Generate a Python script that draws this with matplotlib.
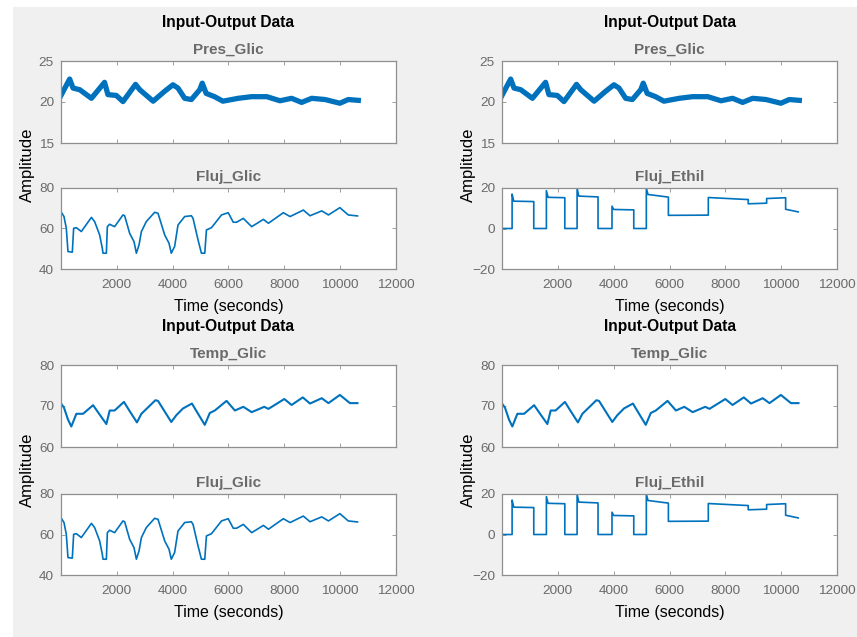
import matplotlib.pyplot as plt
from matplotlib.patches import Rectangle

plt.rcParams['font.family'] = ['Liberation Sans', 'DejaVu Sans']

# Pres_Glic (salida, trazo con ruido)
pres_t = [0, 310, 430, 670, 1090, 1560, 1680, 1980, 2220, 2670, 2820, 3300, 3710,
          4010, 4190, 4430, 4670, 4970, 5060, 5200, 5500, 5800, 6350, 6830, 7370,
          7845, 8260, 8620, 8980, 9460, 9990, 10290, 10650]
pres_v = [20.8, 22.8, 21.7, 21.5, 20.45, 22.4, 20.9, 20.8, 20.05, 22.15, 21.5, 20.1,
          21.3, 22.1, 21.7, 20.45, 20.3, 21.5, 22.3, 21.05, 20.65, 20.1, 20.45, 20.65,
          20.65, 20.15, 20.45, 19.95, 20.45, 20.3, 19.85, 20.3, 20.2]

# Temp_Glic (salida)
temp_t = [0, 107, 250, 370, 550, 790, 1150, 1385, 1625, 1745, 1920, 2255, 2460, 2720,
          2880, 3380, 3475, 3950, 4130, 4370, 4690, 4910, 5150, 5330, 5510, 5930, 6230,
          6530, 6830, 7280, 7430, 8000, 8260, 8660, 8920, 9340, 9580, 9990, 10350, 10620]
temp_v = [70.6, 69.6, 66.7, 65.0, 68.1, 68.1, 70.2, 67.9, 65.6, 68.9, 68.9, 71.0, 68.75,
          66.0, 68.1, 71.4, 71.25, 66.1, 67.75, 69.4, 70.6, 68.1, 65.4, 68.3, 68.9, 71.25,
          68.9, 69.8, 68.5, 69.8, 69.3, 71.7, 70.25, 72.1, 70.6, 71.9, 70.7, 72.7, 70.7, 70.7]

# Fluj_Glic (entrada)
glic_t = [0, 107, 190, 250, 405, 453, 550, 728, 1090, 1205, 1385, 1480, 1505, 1625, 1660,
          1740, 1920, 2220, 2280, 2460, 2615, 2700, 2795, 2880, 3055, 3355, 3475, 3715,
          3870, 3950, 4070, 4190, 4430, 4670, 4730, 4910, 5030, 5150, 5210, 5390, 5750,
          5990, 6170, 6290, 6530, 6830, 7250, 7430, 7965, 8205, 8680, 8920, 9340, 9580,
          9990, 10290, 10620]
glic_v = [68.3, 65.9, 60.1, 48.6, 48.3, 60.1, 60.4, 58.5, 65.5, 63.4, 56.8, 50.2, 47.8,
          47.8, 60.9, 62.1, 60.9, 66.7, 66.3, 57.6, 53.5, 47.8, 51.9, 58.5, 63.4, 68.0,
          67.5, 56.8, 52.7, 47.8, 51.1, 61.7, 65.9, 66.3, 65.0, 54.3, 47.8, 47.8, 59.3,
          60.4, 66.7, 67.8, 63.1, 63.1, 65.0, 60.9, 64.5, 62.6, 67.8, 65.9, 69.1, 66.3,
          68.7, 66.7, 70.3, 66.7, 66.2]

# Fluj_Ethil (entrada, escalones)
ethil_t = [0, 362, 362, 420, 1138, 1138, 1590, 1590, 1650, 2250, 2250, 2690, 2690, 2750,
           3440, 3440, 3940, 3940, 4000, 4720, 4720, 5170, 5170, 5230, 5960, 5960, 7390,
           7390, 8660, 8820, 8820, 9480, 9480, 10160, 10160, 10610]
ethil_v = [0, 0, 17.0, 13.5, 13.3, 0, 0, 18.7, 15.4, 15.2, 0, 0, 20.0, 16.0, 15.6, 0, 0,
           11.0, 9.4, 9.2, 0, 0, 20.0, 16.8, 15.5, 6.5, 6.6, 15.3, 14.4, 14.3, 12.2, 12.5,
           14.8, 15.2, 9.5, 8.2]

xticks = [2000, 4000, 6000, 8000, 10000, 12000]

paneles = [
    # (izquierda, abajo sup, abajo inf, salida, entrada)
    (61, 143, 269, ('Pres_Glic', pres_t, pres_v, (15, 25), [15, 20, 25], 3.8),
     ('Fluj_Glic', glic_t, glic_v, (40, 80), [40, 60, 80])),
    (502, 143, 269, ('Pres_Glic', pres_t, pres_v, (15, 25), [15, 20, 25], 3.8),
     ('Fluj_Ethil', ethil_t, ethil_v, (-20, 20), [-20, 0, 20])),
    (61, 447, 575, ('Temp_Glic', temp_t, temp_v, (60, 80), [60, 70, 80], 1.5),
     ('Fluj_Glic', glic_t, glic_v, (40, 80), [40, 60, 80])),
    (502, 447, 575, ('Temp_Glic', temp_t, temp_v, (60, 80), [60, 70, 80], 1.5),
     ('Fluj_Ethil', ethil_t, ethil_v, (-20, 20), [-20, 0, 20])),
]

W, H = 857, 637
azul = '#0072BD'
gris_eje = '#8f8f8f'
gris_txt = '#6a6a6a'

fig = plt.figure(figsize=(W / 100, H / 100), dpi=100)
fig.patch.set_facecolor('white')
fig.patches.append(Rectangle((13 / W, 0), 1, 1 - 7 / H, transform=fig.transFigure,
                             facecolor='#f0f0f0', edgecolor='none', zorder=-10))


def estilo(ax, nombre, ylim, yticks, etiquetas_x):
    ax.set_xlim(0, 12000)
    ax.set_ylim(*ylim)
    ax.set_xticks(xticks)
    ax.set_yticks(yticks)
    ax.tick_params(direction='in', length=3, width=0.6, top=True, right=True,
                   colors=gris_eje, labelcolor=gris_txt, labelsize=9.7, pad=5)
    ax.tick_params(axis='x', pad=7)
    if not etiquetas_x:
        ax.set_xticklabels([])
    for s in ax.spines.values():
        s.set_color(gris_eje)
        s.set_linewidth(0.9)
    ax.annotate(nombre, xy=(0.5, 1), xycoords='axes fraction', xytext=(0, 11),
                textcoords='offset pixels', ha='center', va='center',
                fontsize=11, fontweight='bold', color=gris_txt)


ancho = 335
for izq, base_sup, base_inf, salida, entrada in paneles:
    alto = 82
    ax1 = fig.add_axes([izq / W, 1 - base_sup / H, ancho / W, alto / H])
    nombre, t, v, ylim, yt, lw = salida
    ax1.plot(t, v, color=azul, linewidth=lw, solid_joinstyle='round')
    estilo(ax1, nombre, ylim, yt, False)

    ax2 = fig.add_axes([izq / W, 1 - base_inf / H, ancho / W, (alto - 1) / H])
    nombre, t, v, ylim, yt = entrada
    ax2.plot(t, v, color=azul, linewidth=1.2)
    estilo(ax2, nombre, ylim, yt, True)

    cx = (izq + ancho / 2) / W
    top = base_sup - alto
    fig.text(cx, 1 - (top - 38) / H, 'Input-Output Data', ha='center', va='center',
             fontsize=11.2, fontweight='bold', color='black')
    fig.text(cx, 1 - (base_inf + 37) / H, 'Time (seconds)', ha='center', va='center',
             fontsize=11.5, color='black')
    fig.text((izq - 34) / W, 1 - ((top + base_inf) / 2) / H, 'Amplitude', rotation=90,
             ha='center', va='center', fontsize=12, color='black')

fig.savefig('out.png', dpi=100)
